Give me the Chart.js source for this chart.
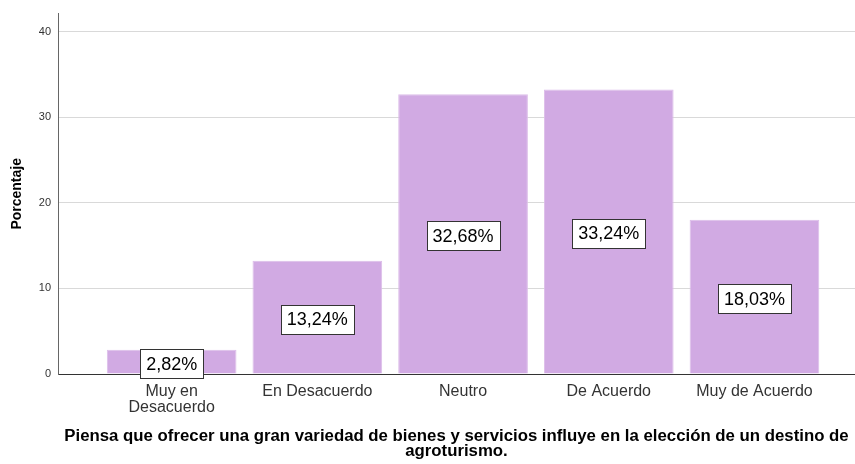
<!DOCTYPE html>
<html>
<head>
<meta charset="utf-8">
<script src="https://cdn.jsdelivr.net/npm/chart.js@4.4.1/dist/chart.umd.min.js"></script>
<style>
  html, body { margin: 0; padding: 0; background: #fff; }
  #wrap { width: 855px; height: 464px; position: relative; }
</style>
</head>
<body>
<div id="wrap"><canvas id="chart"></canvas></div>
<script>
const categories = [['Muy en', 'Desacuerdo'], 'En Desacuerdo', 'Neutro', 'De Acuerdo', 'Muy de Acuerdo'];
const percentages = [2.82, 13.24, 32.68, 33.24, 18.03];
const valueLabels = ['2,82%', '13,24%', '32,68%', '33,24%', '18,03%'];
const yTicks = [0, 10, 20, 30, 40];

const FONT = "'Liberation Sans', Arial, sans-serif";

// boxed percentage labels in the middle of each bar
const boxLabels = {
  id: 'boxLabels',
  afterDatasetsDraw(chart) {
    const ctx = chart.ctx;
    const meta = chart.getDatasetMeta(0);
    ctx.save();
    ctx.font = '18px ' + FONT;
    ctx.textAlign = 'center';
    ctx.textBaseline = 'middle';
    meta.data.forEach((bar, i) => {
      const text = valueLabels[i];
      const w = Math.round(ctx.measureText(text).width + 12);
      const h = 29;
      const cx = bar.x;
      const cy = (bar.y + bar.base) / 2 + 2;
      const x0 = Math.round(cx - w / 2) + 0.5;
      const y0 = Math.round(cy - h / 2) + 0.5;
      ctx.fillStyle = '#ffffff';
      ctx.fillRect(x0, y0, w, h);
      ctx.strokeStyle = '#333333';
      ctx.lineWidth = 1;
      ctx.strokeRect(x0, y0, w, h);
      ctx.fillStyle = '#000000';
      ctx.fillText(text, cx, cy + 1);
    });
    ctx.restore();
  }
};

new Chart(document.getElementById('chart'), {
  type: 'bar',
  data: {
    datasets: [{
      label: 'Porcentaje',
      data: percentages.map((v, i) => ({ x: i, y: v })),
      backgroundColor: '#d1aae3',
      borderColor: '#dcbde9',
      borderWidth: 1,
      categoryPercentage: 1,
      barPercentage: 0.89
    }]
  },
  options: {
    responsive: true,
    maintainAspectRatio: false,
    animation: false,
    layout: { padding: { top: 12, right: 0, bottom: 0, left: 0 } },
    plugins: {
      legend: { display: false },
      tooltip: { enabled: false }
    },
    scales: {
      x: {
        type: 'linear',
        offset: false,
        min: -0.78,
        max: 4.69,
        afterBuildTicks: (scale) => { scale.ticks = categories.map((c, i) => ({ value: i })); },
        afterFit: (scale) => { scale.height = 90; },
        grid: { display: false },
        border: { display: true, color: '#333333', width: 1 },
        ticks: {
          autoSkip: false,
          maxRotation: 0,
          padding: 2,
          color: '#333333',
          font: { family: FONT, size: 16, lineHeight: 1.0 },
          callback: (value) => categories[value]
        },
        title: {
          display: true,
          text: ['Piensa que ofrecer una gran variedad de bienes y servicios influye en la elección de un destino de', 'agroturismo.'],
          color: '#000000',
          font: { family: FONT, size: 16.8, weight: 'bold', lineHeight: 0.88 },
          padding: { top: 0, bottom: 5 }
        }
      },
      y: {
        min: 0,
        max: 42.1,
        afterBuildTicks: (scale) => { scale.ticks = yTicks.map(v => ({ value: v })); },
        afterFit: (scale) => { scale.width = 58; },
        grid: { color: '#d9d9d9', lineWidth: 1, drawTicks: false },
        border: { display: true, color: '#666666', width: 1 },
        ticks: {
          padding: 7,
          color: '#333333',
          font: { family: FONT, size: 11 }
        },
        title: {
          display: true,
          text: 'Porcentaje',
          color: '#000000',
          font: { family: FONT, size: 14, weight: 'bold' },
          padding: { top: 9, bottom: 0 }
        }
      }
    }
  },
  plugins: [boxLabels]
});
</script>
</body>
</html>
